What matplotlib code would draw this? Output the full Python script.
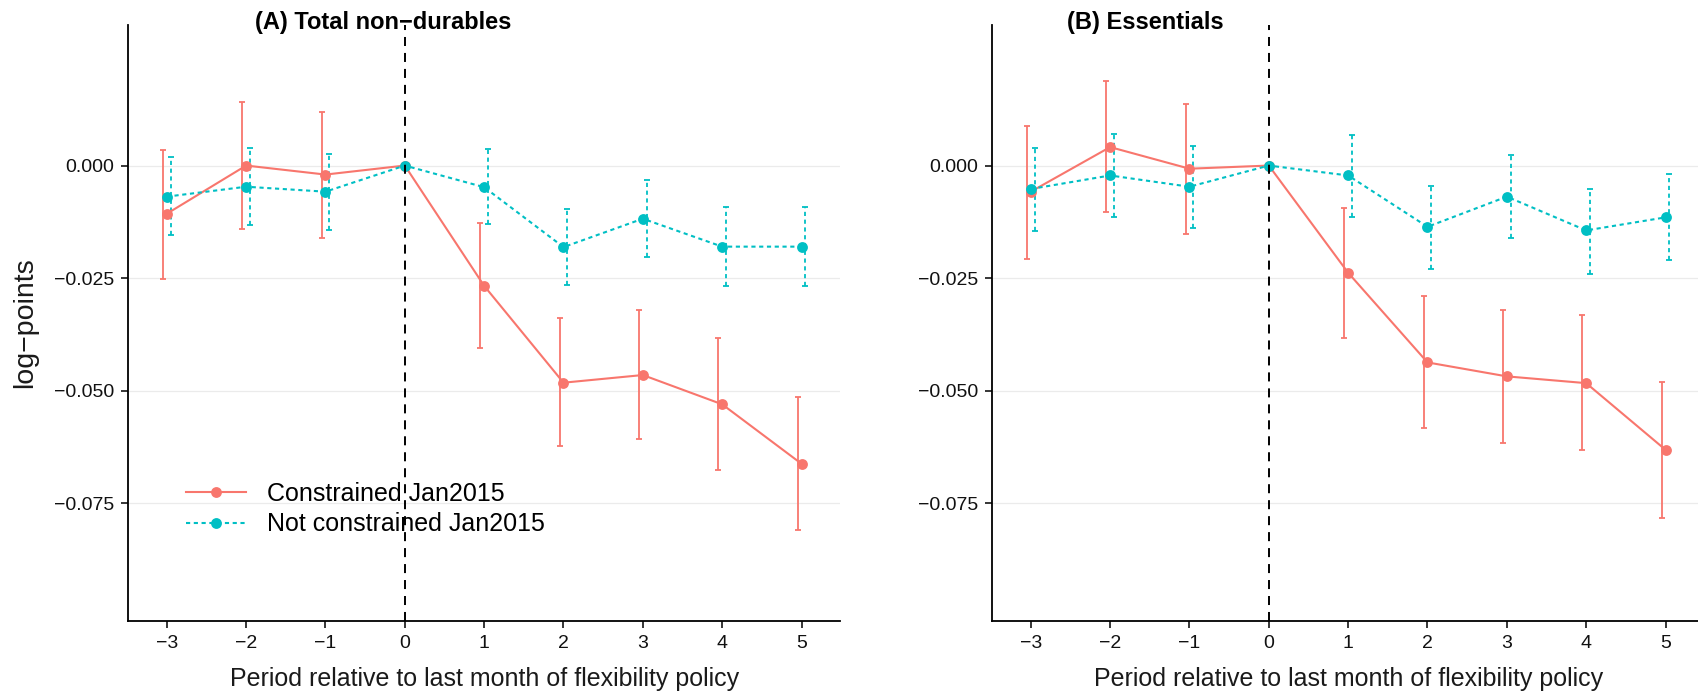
import matplotlib
matplotlib.use("Agg")
import matplotlib.pyplot as plt
import numpy as np

plt.rcParams['font.family'] = ['Liberation Sans', 'DejaVu Sans']
plt.rcParams['lines.scale_dashes'] = False

periods = [-3, -2, -1, 0, 1, 2, 3, 4, 5]
series_labels = ["Constrained Jan2015", "Not constrained Jan2015"]
panel_titles = ["(A) Total non\u2212durables", "(B) Essentials"]
x_tick_labels = ["\u22123", "\u22122", "\u22121", "0", "1", "2", "3", "4", "5"]
y_ticks = [0.0, -0.025, -0.05, -0.075]
y_tick_labels = ["0.000", "\u22120.025", "\u22120.050", "\u22120.075"]

# Panel A: Total non-durables
a_con_est = [-0.0107, 0.0000, -0.0020, 0.0, -0.0267, -0.0482, -0.0465, -0.0530, -0.0662]
a_con_lo = [-0.0252, -0.0141, -0.0161, 0.0, -0.0406, -0.0622, -0.0608, -0.0675, -0.0809]
a_con_hi = [0.0035, 0.0142, 0.0119, 0.0, -0.0127, -0.0339, -0.0320, -0.0383, -0.0514]
a_unc_est = [-0.0069, -0.0047, -0.0058, 0.0, -0.0048, -0.0181, -0.0118, -0.0180, -0.0180]
a_unc_lo = [-0.0155, -0.0132, -0.0143, 0.0, -0.0130, -0.0266, -0.0204, -0.0267, -0.0267]
a_unc_hi = [0.0018, 0.0040, 0.0026, 0.0, 0.0037, -0.0096, -0.0032, -0.0092, -0.0091]

# Panel B: Essentials
b_con_est = [-0.0058, 0.0041, -0.0007, 0.0, -0.0238, -0.0437, -0.0468, -0.0483, -0.0631]
b_con_lo = [-0.0207, -0.0104, -0.0151, 0.0, -0.0382, -0.0583, -0.0615, -0.0632, -0.0782]
b_con_hi = [0.0088, 0.0187, 0.0136, 0.0, -0.0094, -0.0290, -0.0320, -0.0331, -0.0480]
b_unc_est = [-0.0052, -0.0022, -0.0047, 0.0, -0.0022, -0.0136, -0.0069, -0.0144, -0.0115]
b_unc_lo = [-0.0146, -0.0114, -0.0138, 0.0, -0.0114, -0.0229, -0.0161, -0.0240, -0.0209]
b_unc_hi = [0.0039, 0.0069, 0.0044, 0.0, 0.0068, -0.0045, 0.0024, -0.0051, -0.0019]

RED = "#F8766D"
CYAN = "#00BFC4"
DASH_CYAN = (0, (3.0, 2.6))

W, H = 1699, 695
fig = plt.figure(figsize=(W / 100, H / 100), dpi=100)

ax_left_px = [128.3, 992.3]
ax_w_px = 711.7
ax_top_px, ax_bot_px = 25.0, 621.0

panels = [
    (a_con_est, a_con_lo, a_con_hi, a_unc_est, a_unc_lo, a_unc_hi),
    (b_con_est, b_con_lo, b_con_hi, b_unc_est, b_unc_lo, b_unc_hi),
]
title_x_px = [255.0, 1066.7]

axes = []
for i, data in enumerate(panels):
    ax = fig.add_axes([ax_left_px[i] / W, (H - ax_bot_px) / H, ax_w_px / W,
                       (ax_bot_px - ax_top_px) / H])
    axes.append(ax)
    con_est, con_lo, con_hi, unc_est, unc_lo, unc_hi = [np.array(d) for d in data]
    x = np.array(periods, dtype=float)

    for yt in y_ticks:
        ax.axhline(yt, color="#EBEBEB", lw=0.9, zorder=0)

    styles = [
        (con_est, con_lo, con_hi, RED, "solid", -0.048, series_labels[0]),
        (unc_est, unc_lo, unc_hi, CYAN, DASH_CYAN, 0.048, series_labels[1]),
    ]
    for est, lo, hi, col, ls, dx, lab in styles:
        m = hi > lo
        eb = ax.errorbar(x[m] + dx, est[m], yerr=[est[m] - lo[m], hi[m] - est[m]],
                         fmt="none", ecolor=col, elinewidth=1.3, capsize=2.2,
                         capthick=1.3, zorder=3)
        for coll in eb[2]:
            coll.set_linestyle(ls)
        ln, = ax.plot(x, est, color=col, lw=1.5, marker="o", markersize=7.8,
                      markeredgewidth=0, label=lab, zorder=4)
        ln.set_linestyle(ls)

    ax.axvline(0, color="black", lw=1.4, linestyle=(0, (6.5, 5.0)), zorder=5)

    ax.set_xlim(-3.485, 5.485)
    ax.set_ylim(-0.1011, 0.0312)
    ax.set_xticks(periods)
    ax.set_xticklabels(x_tick_labels)
    ax.set_yticks(y_ticks)
    ax.set_yticklabels(y_tick_labels)
    ax.tick_params(axis="both", length=4.8, width=1.1, color="black",
                   labelsize=14, labelcolor="#111111", pad=5.5)
    for s in ["top", "right"]:
        ax.spines[s].set_visible(False)
    for s in ["left", "bottom"]:
        ax.spines[s].set_linewidth(1.3)
        ax.spines[s].set_color("black")

    fig.text(title_x_px[i] / W, 1 - 22 / H, panel_titles[i], fontsize=17,
             fontweight="bold", ha="left", va="center")
    cx = (ax_left_px[i] + ax_w_px / 2) / W
    fig.text(cx, 1 - 679 / H, "Period relative to last month of flexibility policy",
             fontsize=18, ha="center", va="center", color="#1a1a1a")

fig.text(25 / W, 1 - 323 / H, "log\u2212points", fontsize=20.5, rotation=90,
         ha="center", va="center", color="#1a1a1a")

axes[0].legend(loc="center left",
               bbox_to_anchor=((186 - 128.3) / ax_w_px, (621 - 509.2) / 596),
               frameon=False, fontsize=18, handlelength=2.4,
               handletextpad=0.85, labelspacing=0.25, borderpad=0,
               borderaxespad=0, numpoints=1)

fig.savefig("out.png", dpi=100)
